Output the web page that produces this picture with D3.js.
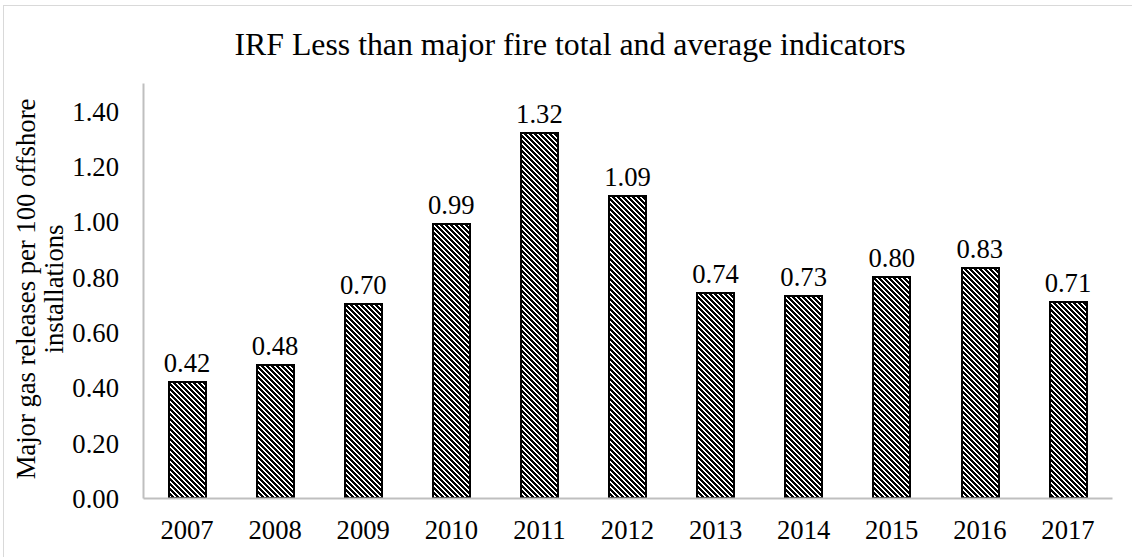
<!DOCTYPE html>
<html>
<head>
<meta charset="utf-8">
<script src="https://cdn.jsdelivr.net/npm/d3@7"></script>
<style>
  html, body { margin: 0; padding: 0; background: #fff; }
  svg { display: block; }
  text { font-family: "Liberation Serif", "Times New Roman", serif; fill: #000; }
</style>
</head>
<body>
<svg id="chart" width="1132" height="557"></svg>
<script>
const years = ["2007","2008","2009","2010","2011","2012","2013","2014","2015","2016","2017"];
const values = [0.42, 0.48, 0.70, 0.99, 1.32, 1.09, 0.74, 0.73, 0.80, 0.83, 0.71];
const yTicks = [0, 0.2, 0.4, 0.6, 0.8, 1.0, 1.2, 1.4];
const title = "IRF Less than major fire total and average indicators";
const yLabelLines = ["Major gas releases per 100 offshore", "installations"];

const svg = d3.select("#chart");
const W = 1132, H = 557;

// outer frame
svg.append("rect")
  .attr("x", 3.5).attr("y", 5.5)
  .attr("width", W + 10).attr("height", H + 10)
  .attr("fill", "#fff").attr("stroke", "#d9d9d9").attr("stroke-width", 1);

// crisp pixel pattern: downward diagonal stripes
const P = 5, BLACK = 3;
const defs = svg.append("defs");
const pat = defs.append("pattern")
  .attr("id", "hatch")
  .attr("patternUnits", "userSpaceOnUse")
  .attr("width", P).attr("height", P);
pat.append("rect").attr("width", P).attr("height", P).attr("fill", "#fff");
const cells = [];
for (let r = 0; r < P; r++) for (let k = 0; k < BLACK; k++) cells.push([(r + k) % P, r]);
pat.selectAll("rect.px").data(cells).join("rect")
  .attr("class", "px")
  .attr("x", d => d[0]).attr("y", d => d[1])
  .attr("width", 1).attr("height", 1)
  .attr("fill", "#000")
  .attr("shape-rendering", "crispEdges");

const x = d3.scaleBand().domain(years).range([143, 1112]).paddingInner(0.585).paddingOuter(0.2925);
const y = d3.scaleLinear().domain([0, 1.5]).range([498, 83]);

// bars
svg.append("g").selectAll("rect")
  .data(values)
  .join("rect")
  .attr("x", (d, i) => Math.round(x(years[i])))
  .attr("y", d => Math.round(y(d)))
  .attr("width", Math.round(x.bandwidth()))
  .attr("height", d => Math.round(y(0)) - Math.round(y(d)))
  .attr("fill", "url(#hatch)")
  .attr("stroke", "#000")
  .attr("stroke-width", 2);

// data labels
svg.append("g").selectAll("text")
  .data(values)
  .join("text")
  .attr("x", (d, i) => x(years[i]) + x.bandwidth() / 2)
  .attr("y", d => y(d) - 10)
  .attr("text-anchor", "middle")
  .attr("font-size", "26.67px")
  .text(d => d3.format(".2f")(d));

// y axis
const yAxis = d3.axisLeft(y).tickValues(yTicks).tickSize(0).tickPadding(24).tickFormat(d3.format(".2f"));
const gy = svg.append("g").attr("transform", "translate(143,0)").call(yAxis);
gy.select(".domain").attr("stroke", "#bfbfbf").attr("stroke-width", 2);
gy.selectAll("text").attr("font-size", "26.67px").attr("font-family", "Liberation Serif, Times New Roman, serif").attr("fill", "#000").attr("dy", "0.35em");

// x axis
const xAxis = d3.axisBottom(x).tickSize(0).tickPadding(22);
const gx = svg.append("g").attr("transform", "translate(0,498)").call(xAxis);
gx.select(".domain").attr("stroke", "#bfbfbf").attr("stroke-width", 2);
gx.selectAll("text").attr("font-size", "26.67px").attr("font-family", "Liberation Serif, Times New Roman, serif").attr("fill", "#000");

// title
svg.append("text")
  .attr("x", 570).attr("y", 55)
  .attr("text-anchor", "middle")
  .attr("font-size", "31.8px")
  .text(title);

// y label
const yl = svg.append("text")
  .attr("transform", "translate(35,289) rotate(-90)")
  .attr("text-anchor", "middle")
  .attr("font-size", "26.67px");
yl.selectAll("tspan")
  .data(yLabelLines)
  .join("tspan")
  .attr("x", 0)
  .attr("y", (d, i) => i * 28)
  .text(d => d);
</script>
</body>
</html>
